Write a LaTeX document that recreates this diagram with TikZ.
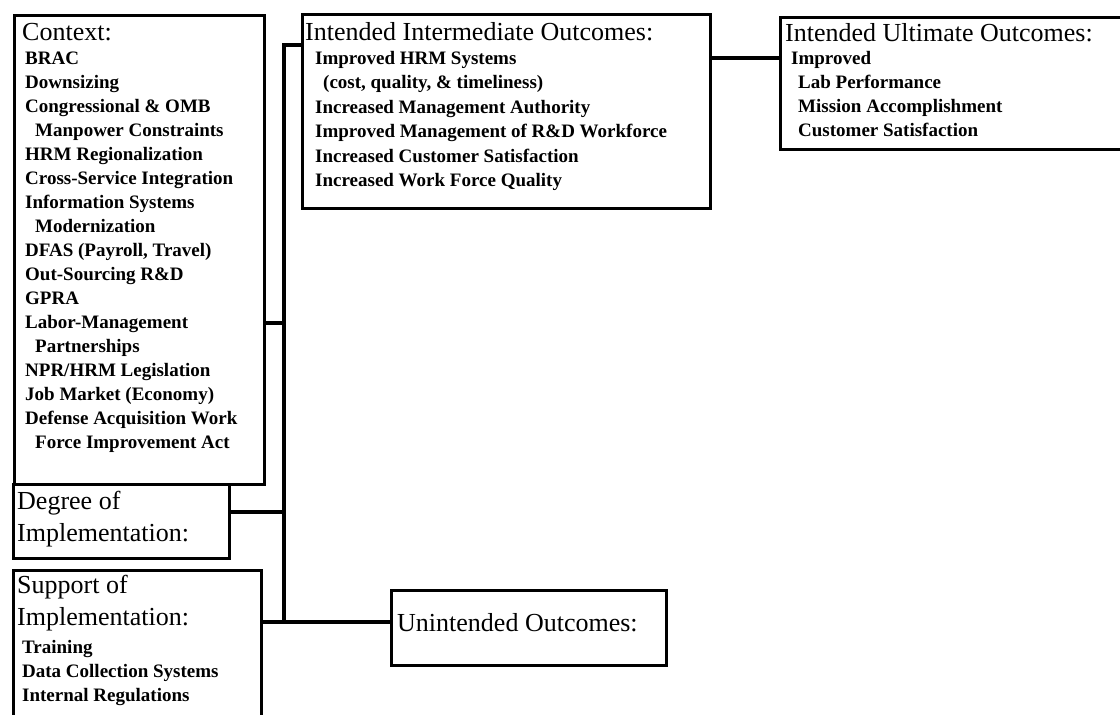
\documentclass[tikz,border=0pt]{standalone}
\usepackage{fontspec}
\setmainfont{Liberation Serif}
\begin{document}
\begin{tikzpicture}[x=1pt,y=-1pt,
  box/.style={draw=black, line width=2.6pt, rectangle, inner sep=0pt, anchor=north west},
  conn/.style={draw=black, line width=3.6pt},
  head/.style={anchor=base west, inner sep=0pt, font=\fontsize{26}{32}\selectfont, align=left},
  items/.style={anchor=base west, inner sep=0pt, font=\fontsize{19}{24.06}\selectfont\bfseries}
]
\useasboundingbox (0,0) rectangle (1120,715);
\clip (0,0) rectangle (1120,715);
\fill[white] (0,0) rectangle (1120,715);
% boxes
\node[box, minimum width=250, minimum height=469] (ctx) at (13,14) {};
\node[box, minimum width=216, minimum height=74] (deg) at (12,483) {};
\node[box, minimum width=248, minimum height=170] (sup) at (12,569) {};
\node[box, minimum width=408, minimum height=194] (inter) at (301,13) {};
\node[box, minimum width=360, minimum height=132] (ult) at (779,16) {};
\node[box, minimum width=275, minimum height=75] (unint) at (390,589) {};
% connector junctions
\coordinate (busTop) at (284,45);
\coordinate (jCtx) at (284,323);
\coordinate (jDeg) at (284,512);
\coordinate (jSup) at (284,622);
\coordinate (jUlt) at (745,58);
\draw[conn] (inter.west |- busTop) -- (busTop) -- (jSup);
\draw[conn] (ctx.east |- jCtx) -- (jCtx);
\draw[conn] (deg.east |- jDeg) -- (jDeg);
\draw[conn] (sup.east |- jSup) -- (unint.west |- jSup);
\draw[conn] (inter.east |- jUlt) -- (ult.west |- jUlt);
% Context text
\node[head] (ctxH) at (22,40) {Context:};
\node[items] (ctxT) at (25,64) {\begin{tabular}[t]{@{}l@{}}
BRAC\\
Downsizing\\
Congressional \& OMB\\
\hspace{10pt}Manpower Constraints\\
HRM Regionalization\\
Cross-Service Integration\\
Information Systems\\
\hspace{10pt}Modernization\\
DFAS (Payroll, Travel)\\
Out-Sourcing R\&D\\
GPRA\\
Labor-Management\\
\hspace{10pt}Partnerships\\
NPR/HRM Legislation\\
Job Market (Economy)\\
Defense Acquisition Work\\
\hspace{10pt}Force Improvement Act
\end{tabular}};
% Degree
\node[head, font=\fontsize{26}{32}\selectfont] (degH) at (17,509) {\begin{tabular}[t]{@{}l@{}}Degree of\\Implementation:\end{tabular}};
% Support
\node[head] (supH) at (17,593) {\begin{tabular}[t]{@{}l@{}}Support of\\Implementation:\end{tabular}};
\node[items, font=\fontsize{19}{24}\selectfont\bfseries] (supT) at (22,653) {\begin{tabular}[t]{@{}l@{}}
Training\\
Data Collection Systems\\
Internal Regulations
\end{tabular}};
% Intermediate
\node[head] (interH) at (305,40) {Intended Intermediate Outcomes:};
\node[items, font=\fontsize{19}{24.5}\selectfont\bfseries] (interT) at (315,64) {\begin{tabular}[t]{@{}l@{}}
Improved HRM Systems\\
\hspace{8pt}(cost, quality, \& timeliness)\\
Increased Management Authority\\
Improved Management of R\&D Workforce\\
Increased Customer Satisfaction\\
Increased Work Force Quality
\end{tabular}};
% Ultimate
\node[head] (ultH) at (785,41) {Intended Ultimate Outcomes:};
\node[items, font=\fontsize{19}{24.3}\selectfont\bfseries] (ultT) at (791,64) {\begin{tabular}[t]{@{}l@{}}
Improved\\
\hspace{7pt}Lab Performance\\
\hspace{7pt}Mission Accomplishment\\
\hspace{7pt}Customer Satisfaction
\end{tabular}};
% Unintended
\node[head] (unintH) at (397,631) {Unintended Outcomes:};
\end{tikzpicture}
\end{document}
